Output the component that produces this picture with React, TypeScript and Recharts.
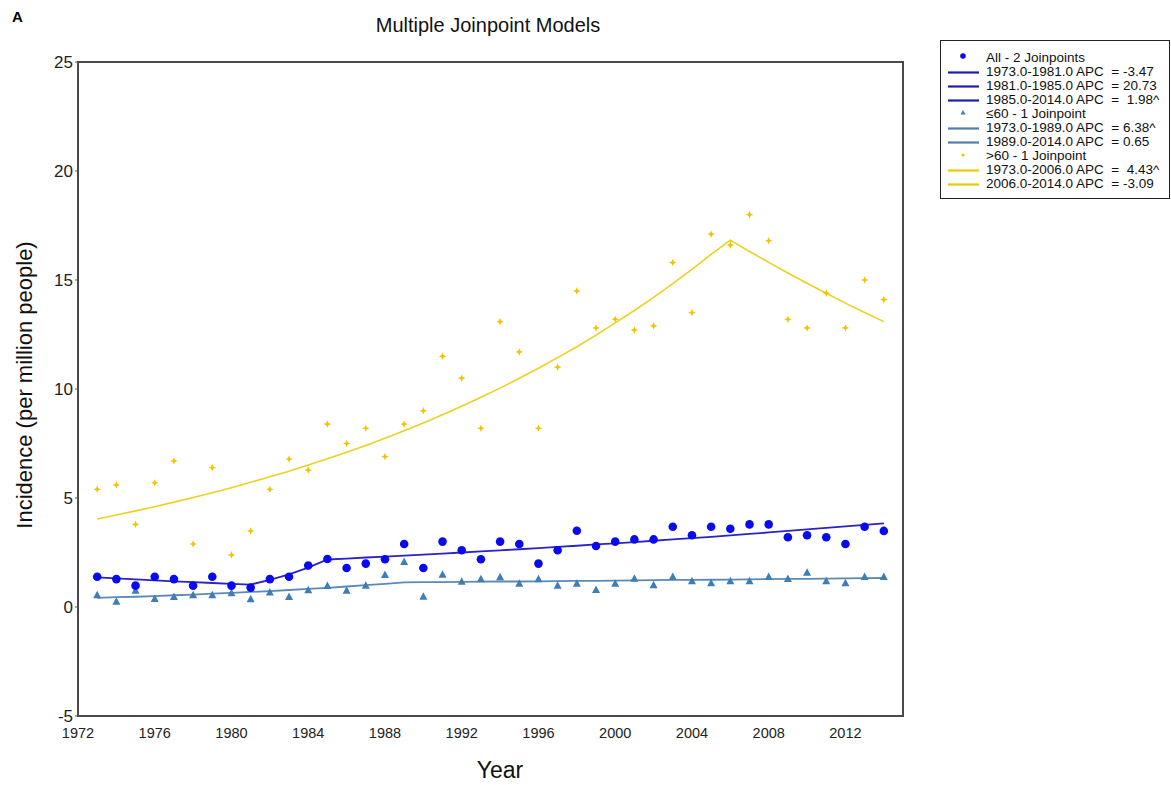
import React from "react";
import {
  ComposedChart,
  Line,
  Scatter,
  XAxis,
  YAxis,
  ReferenceArea,
} from "recharts";

// years 1973..2014
const years = [
  1973, 1974, 1975, 1976, 1977, 1978, 1979, 1980, 1981, 1982, 1983, 1984, 1985, 1986,
  1987, 1988, 1989, 1990, 1991, 1992, 1993, 1994, 1995, 1996, 1997, 1998, 1999, 2000,
  2001, 2002, 2003, 2004, 2005, 2006, 2007, 2008, 2009, 2010, 2011, 2012, 2013, 2014,
];

// observed rates
const allObs = [
  1.39, 1.28, 0.98, 1.39, 1.28, 0.98, 1.39, 0.98, 0.89, 1.28, 1.39, 1.9, 2.2, 1.79,
  1.99, 2.19, 2.89, 1.79, 3.0, 2.6, 2.19, 3.0, 2.89, 1.99, 2.6, 3.5, 2.8, 3.0,
  3.1, 3.1, 3.68, 3.29, 3.68, 3.59, 3.79, 3.79, 3.2, 3.29, 3.2, 2.89, 3.68, 3.49,
];
const youngObs = [
  0.54, 0.24, 0.75, 0.37, 0.46, 0.54, 0.54, 0.63, 0.35, 0.66, 0.46, 0.77, 0.96, 0.75,
  0.98, 1.47, 2.06, 0.47, 1.48, 1.16, 1.27, 1.36, 1.07, 1.27, 0.98, 1.07, 0.78, 1.07,
  1.3, 1.0, 1.38, 1.18, 1.09, 1.18, 1.18, 1.38, 1.28, 1.57, 1.18, 1.09, 1.38, 1.38,
];
const oldObs = [
  5.4, 5.6, 3.79, 5.7, 6.7, 2.89, 6.39, 2.39, 3.49, 5.4, 6.79, 6.28, 8.39, 7.5,
  8.2, 6.9, 8.39, 9.0, 11.5, 10.5, 8.2, 13.09, 11.7, 8.2, 11.0, 14.5, 12.8, 13.2,
  12.7, 12.9, 15.8, 13.5, 17.1, 16.6, 18.0, 16.8, 13.2, 12.8, 14.4, 12.8, 15.0, 14.1,
];

// modelled (joinpoint) rates
const allFit = [
  1.36, 1.31, 1.27, 1.22, 1.18, 1.14, 1.1, 1.06, 1.03, 1.24, 1.5, 1.81, 2.18, 2.22,
  2.27, 2.31, 2.36, 2.4, 2.45, 2.5, 2.55, 2.6, 2.65, 2.7, 2.76, 2.81, 2.87, 2.92,
  2.98, 3.04, 3.1, 3.16, 3.22, 3.29, 3.35, 3.42, 3.49, 3.56, 3.63, 3.7, 3.77, 3.84,
];
const youngFit = [
  0.42, 0.45, 0.47, 0.5, 0.54, 0.57, 0.61, 0.65, 0.69, 0.73, 0.78, 0.83, 0.88, 0.94,
  1.0, 1.06, 1.13, 1.14, 1.14, 1.15, 1.16, 1.17, 1.17, 1.18, 1.19, 1.2, 1.2, 1.21,
  1.22, 1.23, 1.24, 1.24, 1.25, 1.26, 1.27, 1.28, 1.29, 1.29, 1.3, 1.31, 1.32, 1.33,
];
const oldFit = [
  4.04, 4.22, 4.41, 4.6, 4.81, 5.02, 5.24, 5.47, 5.72, 5.97, 6.23, 6.51, 6.8, 7.1,
  7.41, 7.74, 8.09, 8.44, 8.82, 9.21, 9.62, 10.04, 10.49, 10.95, 11.44, 11.94, 12.47, 13.03,
  13.6, 14.2, 14.83, 15.49, 16.18, 16.83, 16.31, 15.81, 15.32, 14.85, 14.39, 13.94, 13.51, 13.09,
];

const xTicks = [1972, 1976, 1980, 1984, 1988, 1992, 1996, 2000, 2004, 2008, 2012];
const yTicks = [-5, 0, 5, 10, 15, 20, 25];
const X_DOMAIN = [1972, 2015];
const Y_DOMAIN = [-5, 25];

const legendRows = [
  { kind: "circle", color: "#0a0af0", text: "All - 2 Joinpoints" },
  { kind: "line", color: "#1c1cb8", text: "1973.0-1981.0 APC  = -3.47" },
  { kind: "line", color: "#1c1cb8", text: "1981.0-1985.0 APC  = 20.73" },
  { kind: "line", color: "#1c1cb8", text: "1985.0-2014.0 APC  =  1.98^" },
  { kind: "triangle", color: "#3f7db3", text: "\u226460 - 1 Joinpoint" },
  { kind: "line", color: "#4f7ea8", text: "1973.0-1989.0 APC  = 6.38^" },
  { kind: "line", color: "#4f7ea8", text: "1989.0-2014.0 APC  = 0.65" },
  { kind: "star", color: "#f0c400", text: ">60 - 1 Joinpoint" },
  { kind: "line", color: "#f0c800", text: "1973.0-2006.0 APC  =  4.43^" },
  { kind: "line", color: "#f0c800", text: "2006.0-2014.0 APC  = -3.09" },
];

const data = years.map((y, i) => ({
  year: y,
  allObs: allObs[i],
  youngObs: youngObs[i],
  oldObs: oldObs[i],
  allFit: allFit[i],
  youngFit: youngFit[i],
  oldFit: oldFit[i],
}));

const font = "Arial, 'Liberation Sans', sans-serif";

const Dot = (props: any) => (
  <circle cx={props.cx} cy={props.cy} r={4.3} fill="#0a0af0" />
);
const Tri = (props: any) => {
  const { cx, cy } = props;
  return (
    <polygon
      points={`${cx},${cy - 4.5} ${cx - 4},${cy + 3} ${cx + 4},${cy + 3}`}
      fill="#3f7db3"
    />
  );
};
const Star = (props: any) => {
  const { cx, cy } = props;
  return (
    <polygon
      points={`${cx},${cy - 3.8} ${cx + 1.1},${cy - 1.1} ${cx + 3.8},${cy} ${cx + 1.1},${cy + 1.1} ${cx},${cy + 3.8} ${cx - 1.1},${cy + 1.1} ${cx - 3.8},${cy} ${cx - 1.1},${cy - 1.1}`}
      fill="#f0c400"
    />
  );
};

function LegendBox() {
  return (
    <div
      style={{
        position: "absolute",
        left: 940,
        top: 40,
        width: 228,
        border: "1.5px solid #222",
        background: "#fff",
        padding: "10px 0 7px 0",
        fontFamily: font,
        fontSize: 13.5,
        color: "#111",
        lineHeight: "14px",
      }}
    >
      {legendRows.map((r, i) => (
        <div key={i} style={{ display: "flex", alignItems: "center", whiteSpace: "pre" }}>
          <svg width={45} height={14} style={{ flex: "none" }}>
            {r.kind === "line" && (
              <line x1={7} x2={38} y1={7.5} y2={7.5} stroke={r.color} strokeWidth={2.2} />
            )}
            {r.kind === "circle" && <circle cx={22} cy={5} r={2.8} fill={r.color} />}
            {r.kind === "triangle" && (
              <polygon points="22,3 19.5,7.5 24.5,7.5" fill={r.color} />
            )}
            {r.kind === "star" && <circle cx={22} cy={6} r={1.6} fill={r.color} />}
          </svg>
          <span>{r.text}</span>
        </div>
      ))}
    </div>
  );
}

export default function App() {
  return (
    <div style={{ position: "absolute", left: 0, top: 0, width: 1171, height: 785, background: "#fff" }}>
      <ComposedChart
        width={1171}
        height={785}
        data={data}
        margin={{ top: 62, right: 268, bottom: 39, left: 28 }}
        style={{ position: "absolute", left: 0, top: 0 }}
      >
        <XAxis
          dataKey="year"
          type="number"
          domain={X_DOMAIN}
          ticks={xTicks}
          height={30}
          tickLine={false}
          axisLine={false}
          tick={{ fill: "#222", fontSize: 14.5, fontFamily: font }}
          tickMargin={6}
          allowDataOverflow
        />
        <YAxis
          type="number"
          domain={Y_DOMAIN}
          ticks={yTicks}
          width={50}
          axisLine={false}
          tickLine={{ stroke: "#555" }}
          tickSize={3}
          tick={{ fill: "#222", fontSize: 17, fontFamily: font }}
          allowDataOverflow
        />
        <ReferenceArea
          x1={X_DOMAIN[0]}
          x2={X_DOMAIN[1]}
          y1={Y_DOMAIN[0]}
          y2={Y_DOMAIN[1]}
          fill="none"
          stroke="#4a4a4a"
          strokeWidth={2}
          fillOpacity={0}
        />
        <Line dataKey="oldFit" stroke="#ead21e" strokeWidth={1.6} dot={false} isAnimationActive={false} />
        <Line dataKey="youngFit" stroke="#5b8ab6" strokeWidth={1.8} dot={false} isAnimationActive={false} />
        <Line dataKey="allFit" stroke="#2b22c8" strokeWidth={1.8} dot={false} isAnimationActive={false} />
        <Scatter dataKey="oldObs" shape={<Star />} isAnimationActive={false} />
        <Scatter dataKey="youngObs" shape={<Tri />} isAnimationActive={false} />
        <Scatter dataKey="allObs" shape={<Dot />} isAnimationActive={false} />
      </ComposedChart>
      <div style={{ position: "absolute", left: 12, top: 8, fontFamily: font, fontWeight: "bold", fontSize: 15 }}>A</div>
      <div
        style={{
          position: "absolute",
          left: 288,
          width: 400,
          top: 14,
          textAlign: "center",
          fontFamily: font,
          fontSize: 20,
          color: "#111",
        }}
      >
        Multiple Joinpoint Models
      </div>
      <div
        style={{
          position: "absolute",
          left: 450,
          top: 757,
          width: 100,
          textAlign: "center",
          fontFamily: font,
          fontSize: 23,
          color: "#111",
        }}
      >
        Year
      </div>
      <div
        style={{
          position: "absolute",
          left: 25,
          top: 385,
          transform: "translate(-50%, -50%) rotate(-90deg)",
          whiteSpace: "nowrap",
          fontFamily: font,
          fontSize: 22,
          color: "#111",
        }}
      >
        Incidence (per million people)
      </div>
      <LegendBox />
    </div>
  );
}
